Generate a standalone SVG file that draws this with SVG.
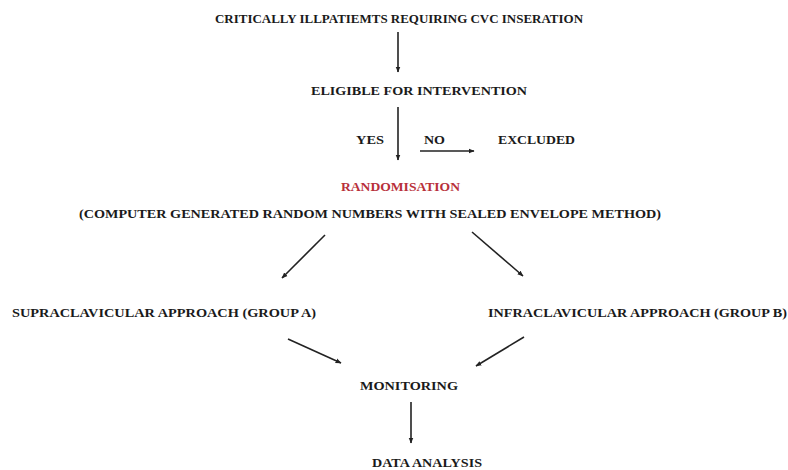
<svg xmlns="http://www.w3.org/2000/svg" width="788" height="470" viewBox="0 0 788 470">
<defs>
<style>
text{font-family:"Liberation Serif","Times New Roman",serif;font-weight:bold;font-size:13px;fill:#1a1a1a}
.red{fill:#b8303a}
.c line{stroke:#222;stroke-width:1.6;fill:none}
</style>
<marker id="ah" viewBox="0 0 10 10" refX="9" refY="5" markerWidth="6" markerHeight="6" orient="auto" markerUnits="userSpaceOnUse"><path d="M0,1 L10,5 L0,9 z" fill="#222"/></marker>
</defs>
<rect width="788" height="470" fill="#fff"/>
<g id="n1"><text x="215" y="23" textLength="368" lengthAdjust="spacingAndGlyphs">CRITICALLY ILLPATIEMTS  REQUIRING CVC INSERATION</text></g>
<g id="n2"><text x="311" y="95" textLength="216" lengthAdjust="spacingAndGlyphs">ELIGIBLE FOR INTERVENTION</text></g>
<g id="lyes"><text x="356" y="144" textLength="28" lengthAdjust="spacingAndGlyphs">YES</text></g>
<g id="lno"><text x="424" y="144" textLength="21" lengthAdjust="spacingAndGlyphs">NO</text></g>
<g id="n3"><text x="498" y="144" textLength="77" lengthAdjust="spacingAndGlyphs">EXCLUDED</text></g>
<g id="n4"><text class="red" x="341" y="191" textLength="119" lengthAdjust="spacingAndGlyphs">RANDOMISATION</text>
<text x="79" y="218" textLength="582" lengthAdjust="spacingAndGlyphs">(COMPUTER GENERATED RANDOM NUMBERS WITH SEALED ENVELOPE  METHOD)</text></g>
<g id="n5"><text x="12" y="317" textLength="304" lengthAdjust="spacingAndGlyphs">SUPRACLAVICULAR APPROACH (GROUP A)</text></g>
<g id="n6"><text x="488" y="317" textLength="299" lengthAdjust="spacingAndGlyphs">INFRACLAVICULAR APPROACH (GROUP B)</text></g>
<g id="n7"><text x="360" y="390" textLength="98" lengthAdjust="spacingAndGlyphs">MONITORING</text></g>
<g id="n8"><text x="372" y="467" textLength="110" lengthAdjust="spacingAndGlyphs">DATA ANALYSIS</text></g>
<g class="c" id="connectors">
<line x1="398" y1="32" x2="398" y2="72" marker-end="url(#ah)"/>
<line x1="398" y1="107" x2="398" y2="160" marker-end="url(#ah)"/>
<line x1="420" y1="151" x2="474" y2="151" marker-end="url(#ah)"/>
<line x1="325" y1="235" x2="282" y2="278" marker-end="url(#ah)"/>
<line x1="472" y1="232" x2="523" y2="276" marker-end="url(#ah)"/>
<line x1="288" y1="339" x2="341" y2="363" marker-end="url(#ah)"/>
<line x1="524" y1="337" x2="476" y2="366" marker-end="url(#ah)"/>
<line x1="411" y1="402" x2="411" y2="443" marker-end="url(#ah)"/>
</g>
</svg>
